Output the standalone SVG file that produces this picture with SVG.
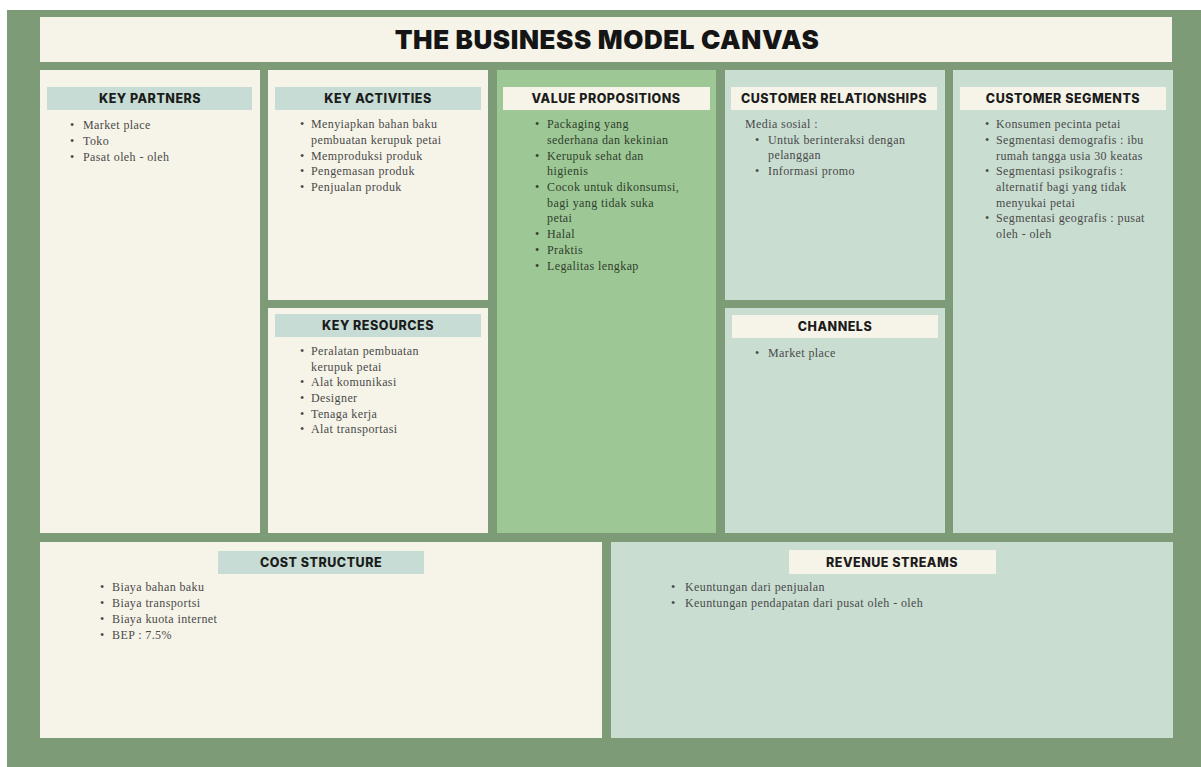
<svg xmlns="http://www.w3.org/2000/svg" width="1201" height="767" viewBox="0 0 1201 767">
<style>
.bg{fill:#7E9B78}
.cream{fill:#F6F4E8}
.mint{fill:#C9DDD1}
.vp{fill:#9EC796}
.hmint{fill:#C6DCD4}
.hcream{fill:#F6F4E8}
.h{font-family:Inter,"Liberation Sans",sans-serif;font-weight:800;font-size:12.5px;letter-spacing:0.5px;fill:#1c1c1c;text-anchor:middle}
.t{font-family:"Liberation Serif",serif;font-size:12px;letter-spacing:0.4px;fill:#4a4a4a}
.tv{font-family:"Liberation Serif",serif;font-size:12px;letter-spacing:0.4px;fill:#2f3f2c}
.title{font-family:Inter,"Liberation Sans",sans-serif;font-weight:900;font-size:26px;fill:#151515;text-anchor:middle;letter-spacing:0.6px}
</style>
<rect class="bg" x="7" y="10" width="1194" height="757"/>
<g id="title">
<rect class="cream" x="40" y="17" width="1132" height="45"/>
<text class="title" x="607" y="49">THE BUSINESS MODEL CANVAS</text>
</g>
<g id="key-partners">
<rect class="cream" x="40" y="70" width="220" height="463"/>
<rect class="hmint" x="47" y="87" width="205" height="23"/>
<text class="h" x="150" y="103">KEY PARTNERS</text>
<g class="t">
<text x="70" y="129">•</text><text x="83" y="129">Market place</text>
<text x="70" y="145">•</text><text x="83" y="145">Toko</text>
<text x="70" y="161">•</text><text x="83" y="161">Pasat oleh - oleh</text>
</g>
</g>
<g id="key-activities">
<rect class="cream" x="268" y="70" width="220" height="230"/>
<rect class="hmint" x="275" y="87" width="206" height="23"/>
<text class="h" x="378" y="103">KEY ACTIVITIES</text>
<g class="t">
<text x="300" y="128">•</text><text x="311" y="128">Menyiapkan bahan baku</text>
<text x="311" y="144">pembuatan kerupuk petai</text>
<text x="300" y="160">•</text><text x="311" y="160">Memproduksi produk</text>
<text x="300" y="175">•</text><text x="311" y="175">Pengemasan produk</text>
<text x="300" y="191">•</text><text x="311" y="191">Penjualan produk</text>
</g>
</g>
<g id="key-resources">
<rect class="cream" x="268" y="308" width="220" height="225"/>
<rect class="hmint" x="275" y="314" width="206" height="23"/>
<text class="h" x="378" y="330">KEY RESOURCES</text>
<g class="t">
<text x="300" y="355">•</text><text x="311" y="355">Peralatan pembuatan</text>
<text x="311" y="371">kerupuk petai</text>
<text x="300" y="386">•</text><text x="311" y="386">Alat komunikasi</text>
<text x="300" y="402">•</text><text x="311" y="402">Designer</text>
<text x="300" y="418">•</text><text x="311" y="418">Tenaga kerja</text>
<text x="300" y="433">•</text><text x="311" y="433">Alat transportasi</text>
</g>
</g>
<g id="value-propositions">
<rect class="vp" x="497" y="70" width="219" height="463"/>
<rect class="hcream" x="503" y="87" width="207" height="23"/>
<text class="h" x="606" y="103">VALUE PROPOSITIONS</text>
<g class="tv">
<text x="535" y="128">•</text><text x="547" y="128">Packaging yang</text>
<text x="547" y="144">sederhana dan kekinian</text>
<text x="535" y="160">•</text><text x="547" y="160">Kerupuk sehat dan</text>
<text x="547" y="175">higienis</text>
<text x="535" y="191">•</text><text x="547" y="191">Cocok untuk dikonsumsi,</text>
<text x="547" y="207">bagi yang tidak suka</text>
<text x="547" y="222">petai</text>
<text x="535" y="238">•</text><text x="547" y="238">Halal</text>
<text x="535" y="254">•</text><text x="547" y="254">Praktis</text>
<text x="535" y="270">•</text><text x="547" y="270">Legalitas lengkap</text>
</g>
</g>
<g id="customer-relationships">
<rect class="mint" x="725" y="70" width="220" height="230"/>
<rect class="hcream" x="731" y="87" width="206" height="23"/>
<text class="h" x="834" y="103">CUSTOMER RELATIONSHIPS</text>
<g class="t">
<text x="745" y="128">Media sosial :</text>
<text x="755" y="144">•</text><text x="768" y="144">Untuk berinteraksi dengan</text>
<text x="768" y="159">pelanggan</text>
<text x="755" y="175">•</text><text x="768" y="175">Informasi promo</text>
</g>
</g>
<g id="channels">
<rect class="mint" x="725" y="308" width="220" height="225"/>
<rect class="hcream" x="732" y="315" width="206" height="23"/>
<text class="h" x="835" y="331">CHANNELS</text>
<g class="t">
<text x="755" y="357">•</text><text x="768" y="357">Market place</text>
</g>
</g>
<g id="customer-segments">
<rect class="mint" x="953" y="70" width="220" height="463"/>
<rect class="hcream" x="960" y="87" width="206" height="23"/>
<text class="h" x="1063" y="103">CUSTOMER SEGMENTS</text>
<g class="t">
<text x="985" y="128">•</text><text x="996" y="128">Konsumen pecinta petai</text>
<text x="985" y="144">•</text><text x="996" y="144">Segmentasi demografis : ibu</text>
<text x="996" y="160">rumah tangga usia 30 keatas</text>
<text x="985" y="175">•</text><text x="996" y="175">Segmentasi psikografis :</text>
<text x="996" y="191">alternatif bagi yang tidak</text>
<text x="996" y="207">menyukai petai</text>
<text x="985" y="222">•</text><text x="996" y="222">Segmentasi geografis : pusat</text>
<text x="996" y="238">oleh - oleh</text>
</g>
</g>
<g id="cost-structure">
<rect class="cream" x="40" y="542" width="562" height="196"/>
<rect class="hmint" x="218" y="551" width="206" height="23"/>
<text class="h" x="321" y="567">COST STRUCTURE</text>
<g class="t">
<text x="100" y="591">•</text><text x="112" y="591">Biaya bahan baku</text>
<text x="100" y="607">•</text><text x="112" y="607">Biaya transportsi</text>
<text x="100" y="623">•</text><text x="112" y="623">Biaya kuota internet</text>
<text x="100" y="639">•</text><text x="112" y="639">BEP : 7.5%</text>
</g>
</g>
<g id="revenue-streams">
<rect class="mint" x="611" y="542" width="562" height="196"/>
<rect class="hcream" x="789" y="550" width="207" height="24"/>
<text class="h" x="892" y="567">REVENUE STREAMS</text>
<g class="t">
<text x="671" y="591">•</text><text x="685" y="591">Keuntungan dari penjualan</text>
<text x="671" y="607">•</text><text x="685" y="607">Keuntungan pendapatan dari pusat oleh - oleh</text>
</g>
</g>
<g id="connectors"></g>
</svg>
